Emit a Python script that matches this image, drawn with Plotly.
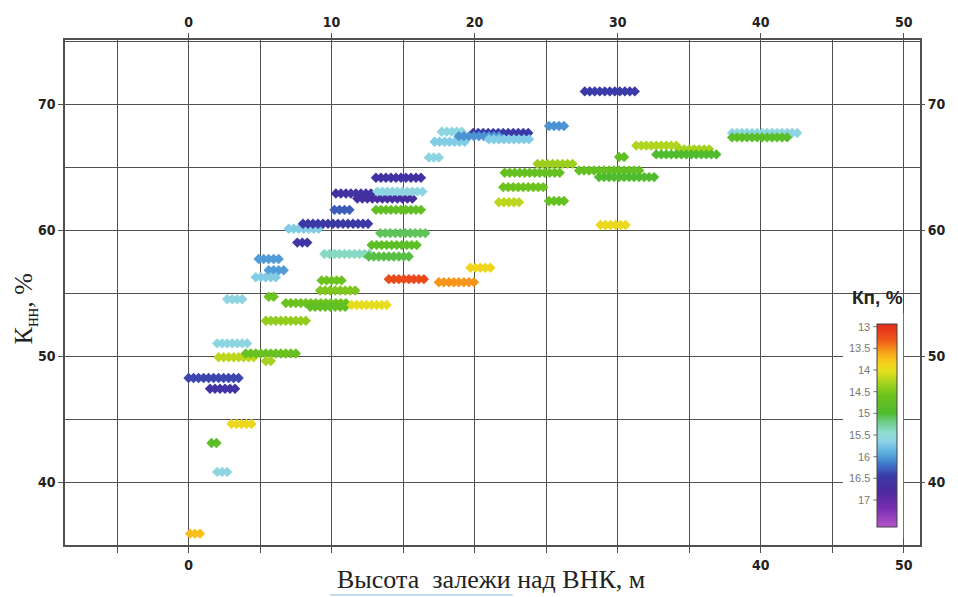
import numpy as np
import plotly.graph_objects as go

# ---------------- data ----------------
# Each row = one interval: samples every SAMPLE_STEP m of height above OWC
SAMPLE_STEP = 0.35
ROW_START = [0.1, 2.0, 1.6, 3.0, 0.0, 1.5, 2.0, 2.1, 4.0, 5.4, 5.4, 5.6, 6.8, 8.5, 11.4,
             2.7, 4.9, 5.6, 4.7, 7.0, 8.0, 7.6, 10.3, 11.8, 10.2, 13.1, 13.1, 13.2, 13.4,
             12.8, 9.5, 12.6, 14.0, 17.5, 9.3, 9.2, 19.7, 16.8, 17.2, 17.7, 19.9, 18.9,
             21.0, 25.2, 27.7, 24.4, 22.1, 27.3, 28.7, 22.0, 21.7, 25.2, 30.1, 31.3, 34.3,
             32.7, 28.8, 38.0, 38.0]
ROW_COUNT = [3, 3, 2, 5, 11, 6, 7, 8, 11, 2, 9, 2, 13, 8, 8,
             4, 5, 4, 5, 7, 14, 3, 8, 12, 4, 10, 10, 10, 10,
             10, 10, 9, 8, 8, 5, 8, 5, 3, 7, 5, 12, 9,
             9, 4, 11, 8, 12, 13, 12, 9, 5, 4, 2, 9, 7,
             13, 6, 14, 12]
ROW_KNN = [35.9, 40.8, 43.1, 44.6, 48.25, 47.4, 51.0, 49.9, 50.2, 49.6, 52.8, 54.7, 54.2, 53.9, 54.05,
           54.5, 57.7, 56.8, 56.25, 60.1, 60.5, 59.0, 62.9, 62.5, 61.6, 61.6, 64.15, 63.05, 59.75,
           58.8, 58.1, 57.9, 56.1, 55.85, 56.0, 55.2, 57.0, 65.75, 67.0, 67.8, 67.7, 67.45,
           67.2, 68.25, 71.0, 65.25, 64.55, 64.72, 64.2, 63.4, 62.2, 62.3, 65.8, 66.7, 66.4,
           66.0, 60.4, 67.7, 67.35]
ROW_KP = [13.75, 15.6, 14.85, 13.95, 16.4, 16.6, 15.6, 14.2, 14.65, 14.3, 14.4, 14.6, 14.6, 14.75, 14.0,
          15.6, 16.0, 16.0, 15.7, 15.7, 16.5, 16.55, 16.6, 16.7, 16.3, 14.75, 16.6, 15.6, 15.1,
          14.8, 15.4, 15.05, 13.2, 13.55, 14.6, 14.5, 13.9, 15.6, 15.7, 15.6, 16.45, 16.05,
          15.7, 16.05, 16.45, 14.35, 14.7, 14.7, 15.0, 14.6, 14.2, 14.7, 14.75, 14.25, 14.3,
          15.0, 13.95, 15.6, 14.85]

KP_MIN, KP_MAX = 12.945, 17.63
KP_TICKS = [13, 13.5, 14, 14.5, 15, 15.5, 16, 16.5, 17]
KP_STOPS = [(12.945, "#e02a1a"), (13.3, "#f0561a"), (13.6, "#f7a21a"), (13.85, "#f5d21c"),
            (14.05, "#e2df1e"), (14.3, "#a5d21e"), (14.6, "#6cc21e"), (15.0, "#4fbb2e"),
            (15.2, "#6dcc86"), (15.45, "#8fdcd0"), (15.65, "#8cd3e6"), (15.9, "#5fb0e0"),
            (16.15, "#3f7fcc"), (16.45, "#3a3aa8"), (16.8, "#4a2a9c"), (17.2, "#7a2fb0"),
            (17.63, "#b455cc")]

X_TOP_TICKS = [0, 10, 20, 30, 40, 50]
X_BOTTOM_LABELS = {0: "0", 40: "40", 50: "50"}
X_GRID = list(range(-5, 51, 5))

# ---------------- build points ----------------
xs, ys, cs = [], [], []
for x0, n, knn, kp in zip(ROW_START, ROW_COUNT, ROW_KNN, ROW_KP):
    for i in range(n):
        xs.append(x0 + i * SAMPLE_STEP)
        ys.append(knn)
        cs.append(-kp)  # negated so that 13 sits on top of the colour bar

span = KP_MAX - KP_MIN
colorscale = sorted([((KP_MAX - v) / span, c) for v, c in KP_STOPS])

# ---------------- geometry ----------------
W, H = 958, 597
ML, MR, MT, MB = 65, 28, 40, 52
PW, PH = W - ML - MR, H - MT - MB


def px(xp):
    return (xp - ML) / PW


def py(yp):
    return (H - MB - yp) / PH


BAR_LEFT, BAR_TOP, BAR_BOTTOM = 886.7, 324.3, 527.3
bar_y0, bar_y1 = py(BAR_BOTTOM), py(BAR_TOP)

fig = go.Figure()
fig.add_trace(go.Scatter(
    x=xs, y=ys, mode="markers", showlegend=False, hoverinfo="skip",
    marker=dict(symbol="diamond", size=8, color=cs, cmin=-KP_MAX, cmax=-KP_MIN,
                colorscale=colorscale, line=dict(width=0),
                colorbar=dict(x=px(BAR_LEFT), xanchor="left", xpad=0, ypad=0,
                              y=bar_y0, yanchor="bottom", len=bar_y1 - bar_y0, lenmode="fraction",
                              thickness=20, thicknessmode="pixels",
                              outlinewidth=1, outlinecolor="#444",
                              showticklabels=False, ticks="")),
))
# empty trace to bind the mirrored axes
fig.add_trace(go.Scatter(x=[], y=[], xaxis="x2", yaxis="y2", showlegend=False, hoverinfo="skip"))

XR = [-8.64, 51.14]
YR = [35.0, 75.08]
GRID = "#505050"
tickfont = dict(family="DejaVu Sans Condensed", size=14, color="#222", weight="bold")

fig.update_layout(
    width=W, height=H, margin=dict(l=ML, r=MR, t=MT, b=MB),
    paper_bgcolor="white", plot_bgcolor="white",
    xaxis=dict(range=XR, tickmode="array", tickvals=X_GRID,
               ticktext=[X_BOTTOM_LABELS.get(v, " ") for v in X_GRID],
               showgrid=True, gridcolor=GRID, gridwidth=1.3, zeroline=False,
               showline=True, linecolor=GRID, linewidth=1.5, mirror=True,
               ticks="outside", ticklen=6, tickcolor=GRID, tickfont=tickfont),
    xaxis2=dict(range=XR, overlaying="x", side="top", anchor="y", tickmode="array",
                tickvals=X_TOP_TICKS, ticktext=[str(v) for v in X_TOP_TICKS],
                showgrid=False, zeroline=False, showline=False,
                ticks="outside", ticklen=6, tickcolor=GRID, tickfont=tickfont),
    yaxis=dict(range=YR, tickmode="linear", tick0=0, dtick=10,
               showgrid=True, gridcolor=GRID, gridwidth=1.3, zeroline=False,
               minor=dict(dtick=5, tick0=0, showgrid=True, gridcolor=GRID, gridwidth=1.3),
               showline=True, linecolor=GRID, linewidth=1.5, mirror=True,
               ticks="outside", ticklen=5, tickcolor=GRID, tickfont=tickfont),
    yaxis2=dict(range=YR, overlaying="y", side="right", anchor="x", tickmode="linear",
                tick0=0, dtick=10, showgrid=False, zeroline=False, showline=False,
                ticks="outside", ticklen=4, tickcolor=GRID, tickfont=tickfont),
)

# white panel behind the colour bar
fig.add_shape(type="rect", xref="paper", yref="paper", layer="above",
              x0=px(852), x1=px(913), y0=py(538), y1=py(313),
              fillcolor="white", line=dict(width=0))
# light spell-check style underline under the first words of the x title
fig.add_shape(type="line", xref="paper", yref="paper", layer="above",
              x0=px(333), x1=px(518), y0=py(595), y1=py(595),
              line=dict(color="#8fb4dc", width=1.2))

ann = []
for v in KP_TICKS:
    yv = bar_y1 - (v - KP_MIN) / span * (bar_y1 - bar_y0)
    ann.append(dict(xref="paper", yref="paper", x=px(BAR_LEFT - 5), y=yv,
                    xanchor="right", yanchor="middle", showarrow=False,
                    text=("%g" % v), font=dict(family="Liberation Sans", size=11, color="#777")))
    fig.add_shape(type="line", xref="paper", yref="paper", layer="above",
                  x0=px(BAR_LEFT - 4), x1=px(BAR_LEFT), y0=yv, y1=yv,
                  line=dict(color="#777", width=1))

ann.append(dict(xref="paper", yref="paper", x=px(887), y=py(297), xanchor="center", yanchor="middle",
                showarrow=False, text="<b>Кп, %</b>",
                font=dict(family="Liberation Sans", size=19, color="#222")))
ann.append(dict(xref="paper", yref="paper", x=px(496), y=py(579), xanchor="center", yanchor="middle",
                showarrow=False, text="Высота  залежи над ВНК, м",
                font=dict(family="Liberation Serif", size=26, color="#222")))
ann.append(dict(xref="paper", yref="paper", x=px(25), y=py(309), xanchor="center", yanchor="middle",
                showarrow=False, textangle=-90, text="К<sub>нн</sub>, %",
                font=dict(family="Liberation Serif", size=26, color="#222")))
fig.update_layout(annotations=ann)

fig.write_html("out.html", config={"displayModeBar": False},
               post_script="document.body.style.margin='0';document.body.style.overflow='hidden';")
